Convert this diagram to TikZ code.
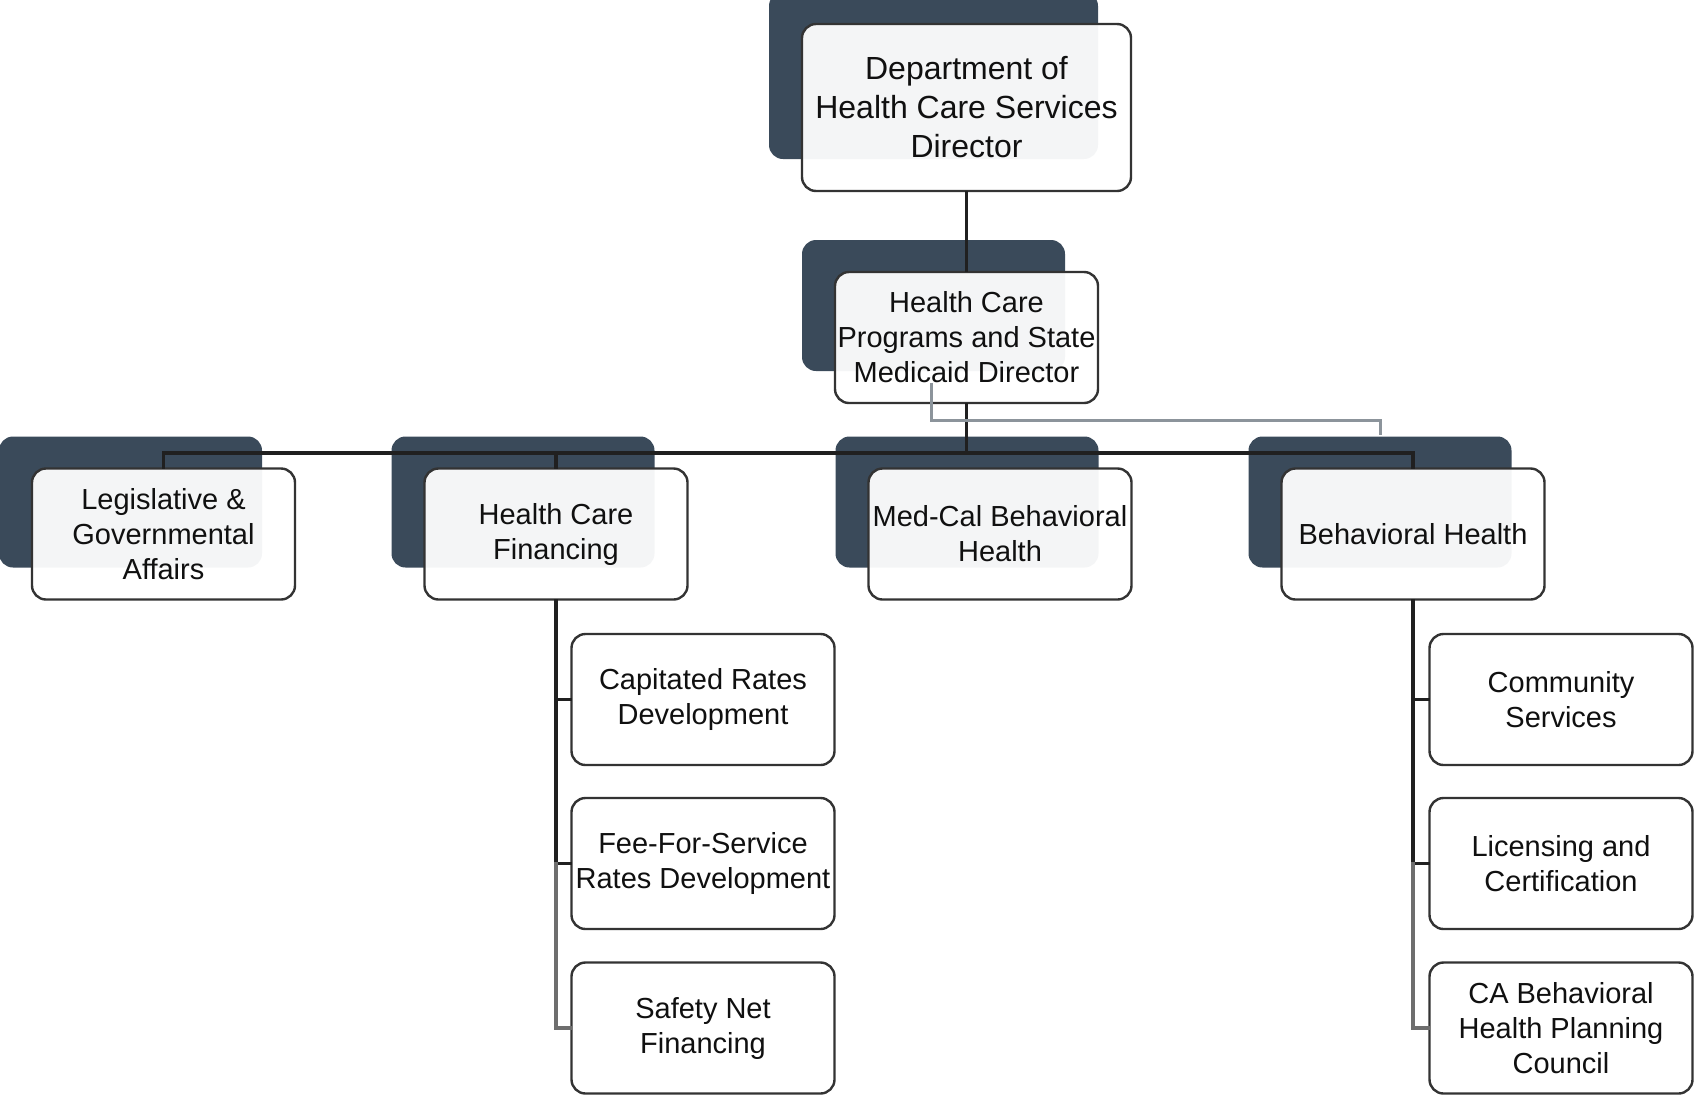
\documentclass[tikz,border=0pt]{standalone}
\usepackage{fontspec}
\setmainfont{Liberation Sans}
\usetikzlibrary{shadows,calc}
\definecolor{shadowc}{HTML}{3A4A5A}
\definecolor{edgec}{HTML}{333333}
\definecolor{linec}{HTML}{202020}
\definecolor{lightlinec}{HTML}{6E6E6E}
\definecolor{greyline}{HTML}{8C949B}
\definecolor{txt}{HTML}{101010}
\begin{document}
\begin{tikzpicture}[x=1pt,y=-1pt,
  orgbox/.style={draw=edgec, line width=2.4pt, rounded corners=14pt, fill=white,
    fill opacity=0.95, text opacity=1, text=txt, align=center,
    minimum width=263pt, minimum height=131pt, inner sep=0pt,
    font=\fontsize{29}{35}\selectfont},
  shadowed/.style={general shadow={fill=shadowc, draw=none, fill opacity=1,
    shadow xshift=-33pt, shadow yshift=32pt}},
  conn/.style={draw=linec, line width=3.2pt, line cap=rect},
  lightconn/.style={draw=lightlinec, line width=3.2pt, line cap=rect},
  dotrel/.style={draw=greyline, line width=3pt}
]
\useasboundingbox (0,0) rectangle (1696,1098);

% boxes
\node[orgbox,shadowed,minimum width=329pt,minimum height=167pt,
  font=\fontsize{32}{39}\selectfont] (dir) at (966.5,107.5)
  {Department of\\Health Care Services\\Director};
\node[orgbox,shadowed] (hcp) at (966.5,337.5) {Health Care\\Programs and State\\Medicaid Director};
\node[orgbox,shadowed] (leg) at (163.5,534) {Legislative \&\\Governmental\\Affairs};
\node[orgbox,shadowed] (hcf) at (556,534) {Health Care\\Financing};
\node[orgbox,shadowed] (mcbh) at (1000,534) {Med-Cal Behavioral\\Health};
\node[orgbox,shadowed] (bh) at (1413,534) {Behavioral Health};
\node[orgbox] (cap) at (703,699.5) {Capitated Rates\\Development};
\node[orgbox] (ffs) at (703,863.5) {Fee-For-Service\\Rates Development};
\node[orgbox] (snf) at (703,1028) {Safety Net\\Financing};
\node[orgbox] (cs) at (1561,699.5) {Community\\Services};
\node[orgbox] (lc) at (1561,863.5) {Licensing and\\Certification};
\node[orgbox] (cabh) at (1561,1028) {CA Behavioral\\Health Planning\\Council};

% helper coordinates
\coordinate (bus) at (0,453);
\coordinate (relbus) at (0,420);
\coordinate (relstart) at (931,383);

% connectors
\draw[conn] (dir.south) -- (hcp.north);
\draw[conn] (hcp.south) -- (hcp.south |- bus);
\draw[conn] (leg.north) -- (leg.north |- bus) -| (bh.north);
\draw[conn] (hcf.north) -- (hcf.north |- bus);
\draw[dotrel] (relstart) -- (relstart |- relbus) -| ($(bh.north)+(-33,-32)$);

\draw[conn] (hcf.south) -- (hcf.south |- ffs.west);
\draw[conn] (hcf.south |- cap.west) -- (cap.west);
\draw[conn] (hcf.south |- ffs.west) -- (ffs.west);
\draw[lightconn] (hcf.south |- ffs.west) -- (hcf.south |- snf.west) -- (snf.west);

\draw[conn] (bh.south) -- (bh.south |- lc.west);
\draw[conn] (bh.south |- cs.west) -- (cs.west);
\draw[conn] (bh.south |- lc.west) -- (lc.west);
\draw[lightconn] (bh.south |- lc.west) -- (bh.south |- cabh.west) -- (cabh.west);
\end{tikzpicture}
\end{document}
